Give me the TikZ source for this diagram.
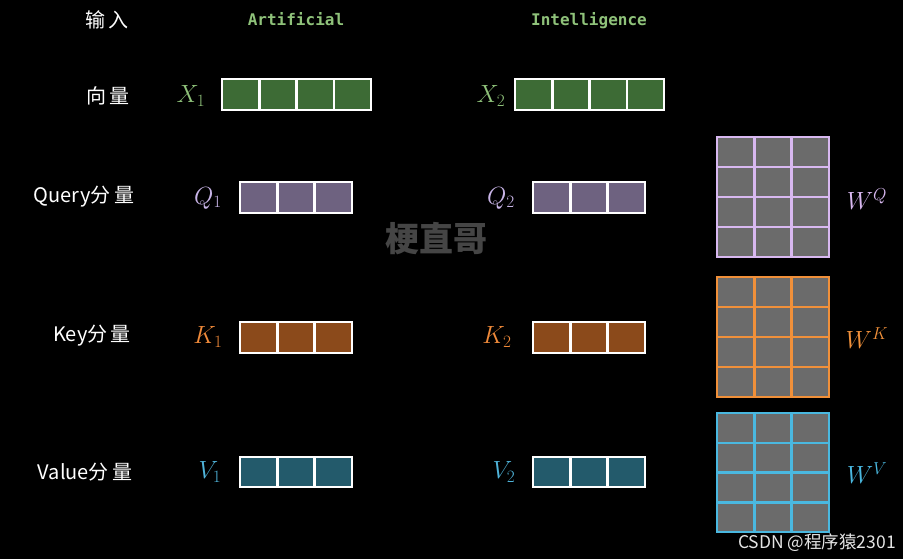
\documentclass[tikz,border=0pt]{standalone}
\usepackage{fontspec}
\newfontfamily\cjk{Noto Sans CJK SC}
\newfontfamily\monof{DejaVu Sans Mono}
\definecolor{gfill}{HTML}{3D6B35}
\definecolor{gtext}{HTML}{8FC27A}
\definecolor{pfill}{HTML}{6E6280}
\definecolor{ptext}{HTML}{C9B5E8}
\definecolor{ofill}{HTML}{8B4A1B}
\definecolor{otext}{HTML}{F08A3A}
\definecolor{tfill}{HTML}{235A6B}
\definecolor{ttext}{HTML}{4FB3D9}
\definecolor{wfill}{HTML}{6B6B6B}
\definecolor{wq}{HTML}{D8B8F0}
\definecolor{wk}{HTML}{F0903A}
\definecolor{wv}{HTML}{4AB8E0}
\definecolor{wm}{HTML}{454545}
\tikzset{
  rowlbl/.style={text=white,font=\cjk\fontsize{20}{20}\selectfont,inner sep=0pt},
  wordlbl/.style={text=gtext,font=\monof\bfseries\fontsize{16}{16}\selectfont,inner sep=0pt,anchor=base},
  mathlbl/.style={font=\fontsize{26}{26}\selectfont,inner sep=0pt},
  cell/.style={draw=white,line width=2.5pt},
  wcell/.style={line width=2.5pt,fill=wfill}
}
\begin{document}
\begin{tikzpicture}[x=1pt,y=-1pt]
\fill[black] (0,0) rectangle (903,559);
\useasboundingbox (0,0) rectangle (903,559);
% header row
\node[rowlbl] (in) at (107,20) {输\,入};
\node[wordlbl] (w1) at (296,26) {Artificial};
\node[wordlbl] (w2) at (589,26) {Intelligence};
% row labels
\node[rowlbl] (vec) at (108,96) {向\,量};
\node[rowlbl] (qr) at (84,197) {Query分\,量};
\node[rowlbl] (kr) at (92,336) {Key分\,量};
\node[rowlbl] (vr) at (85,472) {Value分\,量};
% math labels
\node[mathlbl,text=gtext] (X1) at (191,96) {$X_1$};
\node[mathlbl,text=gtext] (X2) at (491,96) {$X_2$};
\node[mathlbl,text=ptext] (Q1) at (208,198) {$Q_1$};
\node[mathlbl,text=ptext] (Q2) at (501,198) {$Q_2$};
\node[mathlbl,text=otext] (K1) at (208,337) {$K_1$};
\node[mathlbl,text=otext] (K2) at (497,337) {$K_2$};
\node[mathlbl,text=ttext] (V1) at (210,472) {$V_1$};
\node[mathlbl,text=ttext] (V2) at (504,472) {$V_2$};
% X bars
\foreach \i in {0,...,3} {
  \draw[cell,fill=gfill] (222+\i*37.25,79) rectangle ++(37.25,31);
  \draw[cell,fill=gfill] (515+\i*37.25,79) rectangle ++(37.25,31);
}
% Q K V bars
\foreach \i in {0,...,2} {
  \draw[cell,fill=pfill] (240+\i*37.33,182) rectangle ++(37.33,31);
  \draw[cell,fill=pfill] (533+\i*37.33,182) rectangle ++(37.33,31);
  \draw[cell,fill=ofill] (240+\i*37.33,322) rectangle ++(37.33,31);
  \draw[cell,fill=ofill] (533+\i*37.33,322) rectangle ++(37.33,31);
  \draw[cell,fill=tfill] (240+\i*37.33,457) rectangle ++(37.33,30);
  \draw[cell,fill=tfill] (533+\i*37.33,457) rectangle ++(37.33,30);
}
% W matrices
\foreach \r in {0,...,3} {
  \foreach \c in {0,...,2} {
    \draw[wcell,draw=wq] (717+\c*37.33,137+\r*30) rectangle ++(37.33,30);
    \draw[wcell,draw=wk] (717+\c*37.33,277+\r*30) rectangle ++(37.33,30);
    \draw[wcell,draw=wv] (717+\c*37.33,413+\r*29.75) rectangle ++(37.33,29.75);
  }
}
\node[mathlbl,text=wq] (WQ) at (867,199) {$W^Q$};
\node[mathlbl,text=wk] (WK) at (867,338) {$W^K$};
\node[mathlbl,text=wv] (WV) at (867,473) {$W^V$};
% watermarks
\node[text=wm,font=\cjk\bfseries\fontsize{34}{34}\selectfont,inner sep=0pt] (wmk) at (436,239) {梗直哥};
\node[text=white!90!black,font=\cjk\fontsize{17.5}{17.5}\selectfont,inner sep=0pt] (csdn) at (817,543) {CSDN @程序猿2301};
\end{tikzpicture}
\end{document}
